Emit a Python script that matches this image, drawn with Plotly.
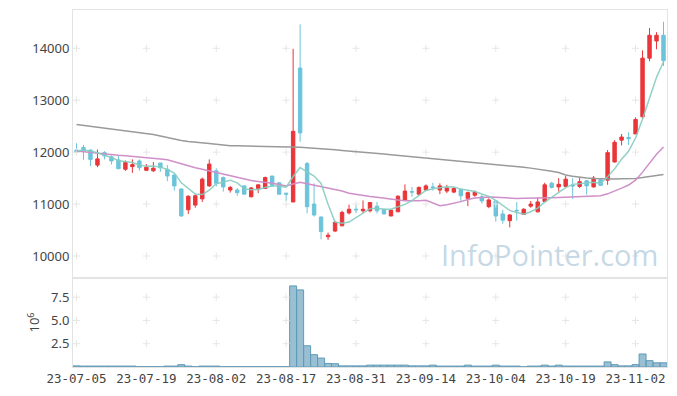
import plotly.graph_objects as go

# ---- trading days (category axis) ----
months = {
    "07": ["05","06","07","10","11","12","13","14","17","18","19","20","21","24","25","26","27","28","31"],
    "08": ["01","02","03","04","07","08","09","10","11","14","16","17","18","21","22","23","24","25","28","29","30","31"],
    "09": ["01","04","05","06","07","08","11","12","13","14","15","18","19","20","21","22","25","26","27"],
    "10": ["04","05","06","10","11","12","13","16","17","18","19","20","23","24","25","26","27","30","31"],
    "11": ["01","02","03","06","07","08"],
}
dates = [f"23-{m}-{d}" for m, ds in months.items() for d in ds]
tick_labels = ["23-07-05","23-07-19","23-08-02","23-08-17","23-08-31","23-09-14","23-10-04","23-10-19","23-11-02"]

open_ = [12040,12090,12040,11750,11990,11910,11850,11670,11720,11830,11650,11640,11790,11670,11560,11290,10890,10980,11100,11350,
         11640,11510,11270,11270,11350,11140,11300,11300,11540,11410,11210,11040,13620,11780,11000,10750,10370,10480,10580,10830,
         10900,10870,10870,10960,10900,10770,10850,11080,11240,11190,11270,11330,11270,11250,11230,11280,11110,11170,11140,10950,
         11060,10810,10680,10880,10800,10960,10850,11050,11400,11330,11340,11360,11340,11450,11330,11470,11460,11810,12230,12280,
         12350,12680,13810,14140,14250]
high = [12170,12140,12050,12050,12020,11940,11930,11840,11860,11860,11770,11810,11790,11750,11570,11300,11170,11190,11510,11860,
        11690,11530,11350,11310,11360,11330,11380,11530,11540,11420,11210,13990,14460,11810,11400,10760,10450,10670,10870,10990,
        10990,11070,11040,11040,10900,10890,11170,11380,11330,11340,11380,11410,11400,11370,11320,11290,11240,11260,11180,11110,
        11070,10890,10800,11040,10920,11060,11130,11410,11430,11500,11540,11500,11510,11460,11540,11480,12040,12230,12350,12380,
        12670,13960,14390,14310,14510]
low = [11980,11850,11730,11710,11860,11760,11680,11640,11600,11640,11640,11620,11620,11440,11260,10760,10810,10930,11040,11330,
       11340,11240,11220,11160,11190,11130,11210,11290,11330,11190,11060,11040,12200,10820,10760,10320,10310,10460,10580,10800,
       10820,10830,10840,10820,10800,10770,10850,11080,11140,11180,11260,11260,11190,11210,11210,11040,10960,11140,11010,10920,
       10660,10620,10550,10680,10800,10930,10840,11040,11300,11240,11320,11100,11310,11180,11320,11350,11370,11800,12130,12140,
       12350,12640,13750,13980,13660]
close = [12000,12020,11860,11870,11930,11830,11680,11800,11760,11700,11710,11690,11700,11540,11350,10770,11150,11160,11480,11770,
         11400,11330,11320,11220,11190,11310,11370,11510,11360,11190,11190,12400,12370,10950,10790,10470,10400,10650,10840,10900,
         10890,10900,11030,10870,10810,10880,11150,11250,11230,11320,11350,11320,11350,11310,11300,11160,11220,11230,11060,11080,
         10770,10690,10790,10870,10900,11000,11040,11370,11320,11380,11480,11350,11430,11350,11500,11360,11990,12190,12290,12260,
         12630,13810,14250,14250,13760]

ma5 = [12020,12040,12020,11990,11936,11901,11833,11821,11799,11754,11730,11732,11711,11667,11596,11409,11301,11193,11182,11267,
       11392,11428,11460,11408,11292,11275,11282,11320,11349,11349,11323,11531,11703,11620,11540,11396,10996,10652,10631,10653,
       10737,10837,10912,10919,10900,10900,10950,10994,11066,11168,11262,11295,11314,11331,11327,11288,11268,11243,11193,11148,
       11070,10965,10878,10838,10804,10851,10921,11038,11129,11224,11318,11379,11390,11397,11421,11397,11525,11677,11865,12017,
       12272,12637,13048,13440,13740]
ma20 = [12020,12005,11990,11975,11965,11955,11940,11930,11920,11905,11890,11880,11870,11855,11815,11775,11725,11700,11670,11638,
        11608,11573,11546,11514,11477,11452,11436,11421,11401,11376,11350,11386,11419,11390,11362,11347,11309,11284,11252,11208,
        11183,11161,11147,11130,11110,11089,11078,11065,11059,11065,11074,11019,10968,10986,11012,11047,11087,11116,11127,11136,
        11130,11120,11107,11107,11112,11118,11112,11118,11123,11126,11132,11133,11137,11139,11149,11159,11197,11246,11307,11366,
        11460,11615,11788,11958,12100]
ma120 = [12533,12516,12500,12483,12466,12449,12432,12415,12398,12381,12365,12340,12310,12280,12250,12225,12205,12195,12180,12165,
         12150,12135,12125,12122,12120,12118,12116,12113,12110,12107,12104,12100,12095,12085,12078,12070,12058,12045,12032,12018,
         12005,11995,11985,11975,11962,11950,11938,11925,11912,11900,11885,11872,11860,11848,11838,11826,11815,11802,11790,11778,
         11765,11752,11740,11724,11708,11692,11676,11655,11632,11608,11560,11535,11515,11500,11490,11485,11482,11482,11485,11488,
         11494,11510,11530,11550,11571]

volume_m = [0.12,0.10,0.10,0.10,0.10,0.10,0.10,0.10,0.10,0.03,0.03,0.03,0.03,0.10,0.10,0.25,0.10,0.03,0.10,0.10,
            0.10,0.03,0.03,0.03,0.03,0.03,0.03,0.03,0.03,0.03,0.03,8.71,8.28,2.28,1.32,0.96,0.38,0.35,0.12,0.12,
            0.12,0.12,0.20,0.20,0.20,0.20,0.20,0.20,0.12,0.12,0.12,0.20,0.10,0.10,0.10,0.10,0.20,0.10,0.10,0.10,
            0.20,0.10,0.10,0.10,0.02,0.10,0.10,0.20,0.10,0.20,0.10,0.10,0.10,0.10,0.10,0.10,0.55,0.25,0.12,0.12,
            0.25,1.40,0.68,0.45,0.45]

price_ticks = [10000, 11000, 12000, 13000, 14000]
vol_ticks = [2.5, 5.0, 7.5]

RED = "#ea3539"
BLUE = "#6cc4da"
GRID = "#e6e6e6"
FRAME = "#e3e3e3"

fig = go.Figure()

# grid crosses at tick intersections
fig.add_trace(go.Scatter(
    x=[t for t in tick_labels for _ in price_ticks], y=[p for _ in tick_labels for p in price_ticks],
    mode="markers", marker=dict(symbol="cross-thin", size=5, line=dict(color=GRID, width=1)),
    hoverinfo="skip", showlegend=False, xaxis="x", yaxis="y"))
fig.add_trace(go.Scatter(
    x=[t for t in tick_labels for _ in vol_ticks], y=[v for _ in tick_labels for v in vol_ticks],
    mode="markers", marker=dict(symbol="cross-thin", size=5, line=dict(color=GRID, width=1)),
    hoverinfo="skip", showlegend=False, xaxis="x2", yaxis="y2"))

fig.add_trace(go.Scatter(x=dates, y=ma120, mode="lines", line=dict(color="#9a9a9a", width=1.5),
                         hoverinfo="skip", showlegend=False, xaxis="x", yaxis="y"))
fig.add_trace(go.Scatter(x=dates, y=ma20, mode="lines", line=dict(color="#cf8fc9", width=1.5),
                         hoverinfo="skip", showlegend=False, xaxis="x", yaxis="y"))

fig.add_trace(go.Candlestick(
    x=dates, open=open_, high=high, low=low, close=close,
    increasing=dict(line=dict(color=RED, width=1), fillcolor=RED),
    decreasing=dict(line=dict(color=BLUE, width=1), fillcolor=BLUE),
    whiskerwidth=0, showlegend=False, xaxis="x", yaxis="y"))

fig.add_trace(go.Scatter(x=dates, y=ma5, mode="lines", line=dict(color="#86cdc0", width=1.5),
                         opacity=0.9, hoverinfo="skip", showlegend=False, xaxis="x", yaxis="y"))

fig.add_trace(go.Bar(x=dates, y=volume_m, width=1.0,
                     marker=dict(color="rgba(120,170,196,0.75)", line=dict(color="#5f9bb8", width=1)),
                     showlegend=False, xaxis="x2", yaxis="y2"))

fig.add_annotation(text="InfoPointer.com", xref="paper", yref="y", x=0.988, y=10030,
                   xanchor="right", yanchor="middle", showarrow=False,
                   font=dict(family="Open Sans", size=29, color="rgba(160,192,212,0.62)"))

axis_common = dict(showline=True, mirror=True, linecolor=FRAME, linewidth=1, showgrid=False,
                   zeroline=False, ticks="")
tick_font = dict(family="Noto Sans", size=13, color="#444")

# page body has an 8px default margin: figure is sized/margined so the plot lands where the reference has it
fig.update_layout(
    width=669, height=388,
    margin=dict(l=65, r=10, t=2, b=29, autoexpand=False),
    paper_bgcolor="white", plot_bgcolor="white",
    showlegend=False,
    xaxis=dict(type="category", categoryorder="array", categoryarray=dates,
               domain=[0, 1], anchor="y", range=[-0.5, 84.5],
               rangeslider=dict(visible=False), showticklabels=False,
               tickvals=tick_labels, tickfont=tick_font, **axis_common),
    yaxis=dict(domain=[0.2493, 1], anchor="x", range=[9576, 14737], tickvals=price_ticks,
               tickformat="d", tickfont=tick_font, **axis_common),
    xaxis2=dict(type="category", categoryorder="array", categoryarray=dates,
                domain=[0, 1], anchor="y2", matches="x", range=[-0.5, 84.5],
                tickvals=tick_labels, ticktext=tick_labels, tickangle=0,
                tickfont=dict(family="DejaVu Sans Mono", size=12.5, color="#444"), **axis_common),
    yaxis2=dict(domain=[0, 0.2493], anchor="x2", range=[0, 9.56], tickvals=vol_ticks,
                ticktext=["2.5", "5.0", "7.5"], tickfont=tick_font,
                title=dict(text="10<sup>6</sup>", font=dict(family="Noto Sans", size=13, color="#444"), standoff=8),
                **axis_common),
)

fig.write_html("out.html")
